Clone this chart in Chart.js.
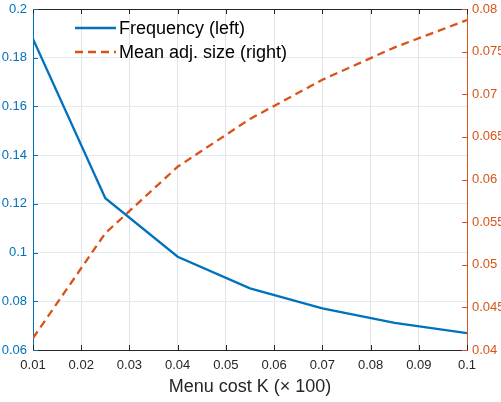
<!DOCTYPE html>
<html>
<head>
<meta charset="utf-8">
<script src="https://cdn.jsdelivr.net/npm/chart.js@4/dist/chart.umd.min.js"></script>
<style>
html,body{margin:0;padding:0;background:#fff;}
#wrap{width:501px;height:402px;position:relative;}
</style>
</head>
<body>
<div id="wrap"><canvas id="c" width="501" height="402"></canvas></div>
<script>
const menuCost = [0.01, 0.025, 0.04, 0.055, 0.07, 0.085, 0.1];
const frequency = [0.1877, 0.1223, 0.0983, 0.0853, 0.0771, 0.0711, 0.0669];
const meanAdjSize = [0.0414, 0.0537, 0.0615, 0.0671, 0.0717, 0.0755, 0.0787];
const seriesNames = ['Frequency (left)', 'Mean adj. size (right)'];
const xTitle = 'Menu cost K (\u00d7 100)';

const BLUE = '#0072BD', ORANGE = '#D95319', DARK = '#262626';
const FONT = '"Liberation Sans", Arial, Helvetica, sans-serif';

const fmt = v => String(Number(Number(v).toFixed(4)));
const zeroPad = s => { s.paddingTop = 0; s.paddingBottom = 0; s.paddingLeft = 0; s.paddingRight = 0; };

const tickPlugin = {
  id: 'inTicks',
  afterDraw(chart) {
    const ctx = chart.ctx, a = chart.chartArea;
    const x = chart.scales.x, yl = chart.scales.y, yr = chart.scales.y1;
    ctx.save();
    ctx.lineWidth = 1;
    ctx.strokeStyle = DARK;
    ctx.beginPath(); ctx.moveTo(a.left, a.top + 0.5); ctx.lineTo(a.right, a.top + 0.5); ctx.stroke();
    x.ticks.forEach((t, i) => {
      const px = Math.round(x.getPixelForTick(i)) + 0.5;
      ctx.beginPath();
      ctx.moveTo(px, a.bottom); ctx.lineTo(px, a.bottom - 5);
      ctx.moveTo(px, a.top); ctx.lineTo(px, a.top + 5);
      ctx.stroke();
    });
    ctx.strokeStyle = BLUE;
    yl.ticks.forEach((t, i) => {
      const py = Math.round(yl.getPixelForTick(i)) + 0.5;
      ctx.beginPath(); ctx.moveTo(a.left, py); ctx.lineTo(a.left + 5, py); ctx.stroke();
    });
    ctx.strokeStyle = ORANGE;
    yr.ticks.forEach((t, i) => {
      const py = Math.round(yr.getPixelForTick(i)) + 0.5;
      ctx.beginPath(); ctx.moveTo(a.right, py); ctx.lineTo(a.right - 5, py); ctx.stroke();
    });
    const ds = chart.data.datasets;
    const lx0 = 75, lx1 = 116, tx = 119, rows = [28, 52];
    ctx.font = '18px ' + FONT;
    ctx.textBaseline = 'middle';
    ds.forEach((d, i) => {
      ctx.strokeStyle = d.borderColor;
      ctx.lineWidth = 2.3;
      ctx.setLineDash(d.borderDash || []);
      ctx.beginPath(); ctx.moveTo(lx0, rows[i]); ctx.lineTo(lx1, rows[i]); ctx.stroke();
      ctx.setLineDash([]);
      ctx.fillStyle = '#000';
      ctx.fillText(d.label, tx, rows[i] + 1);
    });
    ctx.restore();
  }
};

new Chart(document.getElementById('c'), {
  type: 'line',
  data: {
    labels: menuCost,
    datasets: [
      {
        label: seriesNames[0],
        data: menuCost.map((m, i) => ({x: m, y: frequency[i]})),
        borderColor: BLUE, borderWidth: 2.3, pointRadius: 0, tension: 0,
        yAxisID: 'y', fill: false
      },
      {
        label: seriesNames[1],
        data: menuCost.map((m, i) => ({x: m, y: meanAdjSize[i]})),
        borderColor: ORANGE, borderWidth: 2.3, borderDash: [8, 5], pointRadius: 0, tension: 0,
        yAxisID: 'y1', fill: false
      }
    ]
  },
  options: {
    responsive: false,
    animation: false,
    devicePixelRatio: 1,
    layout: {padding: {top: 9, left: 0, right: 0, bottom: 0}},
    plugins: {legend: {display: false}, tooltip: {enabled: false}},
    scales: {
      x: {
        type: 'linear', min: 0.01, max: 0.1,
        afterFit(s) { s.height = 52; zeroPad(s); },
        ticks: {stepSize: 0.01, color: DARK, font: {family: FONT, size: 13}, padding: 8, maxRotation: 0,
                callback: v => fmt(v)},
        grid: {color: '#e3e3e3', drawTicks: false, lineWidth: 1},
        border: {color: DARK, width: 1},
        title: {display: true, text: xTitle, color: DARK, font: {family: FONT, size: 18}, padding: {top: 0, bottom: 4}}
      },
      y: {
        type: 'linear', position: 'left', min: 0.06, max: 0.2,
        afterFit(s) { s.width = 33; zeroPad(s); },
        ticks: {stepSize: 0.02, color: BLUE, font: {family: FONT, size: 13}, padding: 6, callback: v => fmt(v)},
        grid: {color: '#e2ebf4', drawTicks: false, lineWidth: 1},
        border: {color: BLUE, width: 1}
      },
      y1: {
        type: 'linear', position: 'right', min: 0.04, max: 0.08,
        afterFit(s) { s.width = 34; zeroPad(s); },
        ticks: {stepSize: 0.005, color: ORANGE, font: {family: FONT, size: 13}, padding: 5, callback: v => fmt(v)},
        grid: {drawOnChartArea: false, drawTicks: false},
        border: {color: ORANGE, width: 1}
      }
    }
  },
  plugins: [tickPlugin]
});
</script>
</body>
</html>
